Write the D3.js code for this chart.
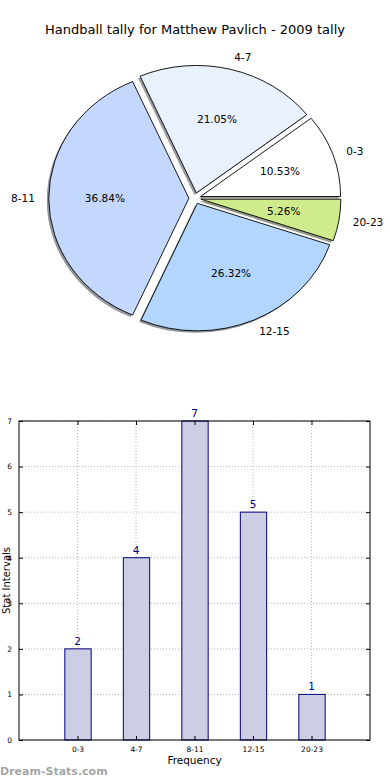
<!DOCTYPE html>
<html>
<head>
<meta charset="utf-8">
<script src="https://cdn.jsdelivr.net/npm/d3@7"></script>
<style>
html,body{margin:0;padding:0;background:#fff;}
svg{display:block;font-family:"DejaVu Sans",sans-serif;}
</style>
</head>
<body>
<svg id="chart" width="390" height="780"></svg>
<script>
const categories = ["0-3", "4-7", "8-11", "12-15", "20-23"];
const counts = [2, 4, 7, 5, 1];
const pieColors = ["#ffffff", "#e9f1ff", "#c4d8ff", "#b3d6ff", "#cfeb8b"];
const yTicks = [0, 1, 2, 3, 4, 5, 6, 7];
const title = "Handball tally for Matthew Pavlich - 2009 tally";

const svg = d3.select("#chart");

// Title
svg.append("text").attr("x", 195).attr("y", 34).attr("text-anchor", "middle")
  .attr("font-size", 13).attr("fill", "#000").text(title);

// ---------- PIE ----------
const cx = 194.9, cy = 198.3, rx = 140, ry = 127.5, explode = 0.043;
const total = d3.sum(counts);
const pie = d3.pie().sort(null).startAngle(Math.PI / 2).endAngle(Math.PI / 2 - 2 * Math.PI);
const arcs = pie(counts);
const arcGen = d3.arc().innerRadius(0).outerRadius(1);
const pieG = svg.append("g");

function offs(d, k) {
  const a = (d.startAngle + d.endAngle) / 2;
  return [cx + k * rx * Math.sin(a), cy - k * ry * Math.cos(a)];
}

// shadows
arcs.forEach((d, i) => {
  const [ox, oy] = offs(d, explode);
  const c = d3.rgb(pieColors[i]);
  pieG.append("path")
    .attr("d", arcGen(d))
    .attr("transform", `translate(${ox - 2},${oy + 2}) scale(${rx},${ry})`)
    .attr("fill", d3.rgb(c.r * 0.3, c.g * 0.3, c.b * 0.3))
    .attr("fill-opacity", 0.55)
    .attr("stroke", "none");
});
// wedges
arcs.forEach((d, i) => {
  const [ox, oy] = offs(d, explode);
  pieG.append("path")
    .attr("d", arcGen(d))
    .attr("transform", `translate(${ox},${oy}) scale(${rx},${ry})`)
    .attr("fill", pieColors[i])
    .attr("stroke", "#000")
    .attr("stroke-width", 0.9)
    .attr("vector-effect", "non-scaling-stroke")
    .attr("stroke-linejoin", "round");
});
// labels
arcs.forEach((d, i) => {
  const a = (d.startAngle + d.endAngle) / 2;
  const [lx, ly] = offs(d, explode + 1.1);
  pieG.append("text").attr("x", lx).attr("y", ly)
    .attr("dy", "0.35em")
    .attr("text-anchor", Math.sin(a) >= 0 ? "start" : "end")
    .attr("font-size", 10.5).text(categories[i]);
  const [px, py] = offs(d, explode + 0.6);
  pieG.append("text").attr("x", px).attr("y", py)
    .attr("dy", "0.35em").attr("text-anchor", "middle")
    .attr("font-size", 10.5)
    .text((counts[i] / total * 100).toFixed(2) + "%");
});

// ---------- BAR ----------
const L = 19, R = 370, T = 421, B = 740;
const x = d3.scaleLinear().domain([-1, 5]).range([L, R]);
const y = d3.scaleLinear().domain([0, 7]).range([B, T]);
const barW = 0.45;
const bg = svg.append("g");

// grid
bg.selectAll(".gy").data(yTicks).join("line")
  .attr("x1", L).attr("x2", R).attr("y1", d => y(d)).attr("y2", d => y(d))
  .attr("stroke", "#b8b8b8").attr("stroke-width", 1).attr("stroke-dasharray", "1,2");
bg.selectAll(".gx").data(categories).join("line")
  .attr("x1", (d, i) => x(i)).attr("x2", (d, i) => x(i)).attr("y1", T).attr("y2", B)
  .attr("stroke", "#b8b8b8").attr("stroke-width", 1).attr("stroke-dasharray", "1,2");

// bars
bg.selectAll(".bar").data(counts).join("rect")
  .attr("x", (d, i) => x(i - barW / 2) + 0.5)
  .attr("width", x(barW) - x(0))
  .attr("y", d => y(d))
  .attr("height", d => y(0) - y(d))
  .attr("fill", "#cdcde3").attr("fill-opacity", 1)
  .attr("stroke", "#000080").attr("stroke-width", 1);

// bar value labels
bg.selectAll(".vl").data(counts).join("text")
  .attr("x", (d, i) => x(i)).attr("y", d => y(d) - 4)
  .attr("text-anchor", "middle").attr("font-size", 10.5).attr("fill", "#000080")
  .text(d => d);

// axes frame
bg.append("rect").attr("x", L).attr("y", T).attr("width", R - L).attr("height", B - T)
  .attr("fill", "none").attr("stroke", "#000").attr("stroke-width", 1);

// inward ticks
const yAxisL = d3.axisLeft(y).tickValues(yTicks).tickSizeInner(-4).tickSizeOuter(0).tickPadding(7).tickFormat(d3.format("d"));
const gl = bg.append("g").attr("transform", `translate(${L},0)`).call(yAxisL);
gl.select(".domain").remove();
gl.selectAll("text").attr("font-size", 7.5).attr("font-family", "DejaVu Sans");
const yAxisR = d3.axisRight(y).tickValues(yTicks).tickSizeInner(-4).tickSizeOuter(0).tickFormat("");
const gr = bg.append("g").attr("transform", `translate(${R},0)`).call(yAxisR);
gr.select(".domain").remove();

const xAxisB = d3.axisBottom(x).tickValues(d3.range(categories.length)).tickSizeInner(-4).tickSizeOuter(0).tickPadding(7).tickFormat(i => categories[i]);
const gb = bg.append("g").attr("transform", `translate(0,${B})`).call(xAxisB);
gb.select(".domain").remove();
gb.selectAll("text").attr("font-size", 7.5).attr("font-family", "DejaVu Sans");
const xAxisT = d3.axisTop(x).tickValues(d3.range(categories.length)).tickSizeInner(-4).tickSizeOuter(0).tickFormat("");
const gt = bg.append("g").attr("transform", `translate(0,${T})`).call(xAxisT);
gt.select(".domain").remove();

// axis titles
bg.append("text").attr("x", (L + R) / 2).attr("y", 764).attr("text-anchor", "middle")
  .attr("font-size", 10.5).text("Frequency");
bg.append("text").attr("transform", `translate(9.5,${(T + B) / 2}) rotate(-90)`)
  .attr("text-anchor", "middle").attr("font-size", 10).text("Stat Intervals");

// watermark
svg.append("text").attr("x", 0).attr("y", 775).attr("font-size", 11).attr("font-weight", "bold")
  .attr("fill", "#9a9a9a").attr("fill-opacity", 0.9).text("Dream-Stats.com");
</script>
</body>
</html>
